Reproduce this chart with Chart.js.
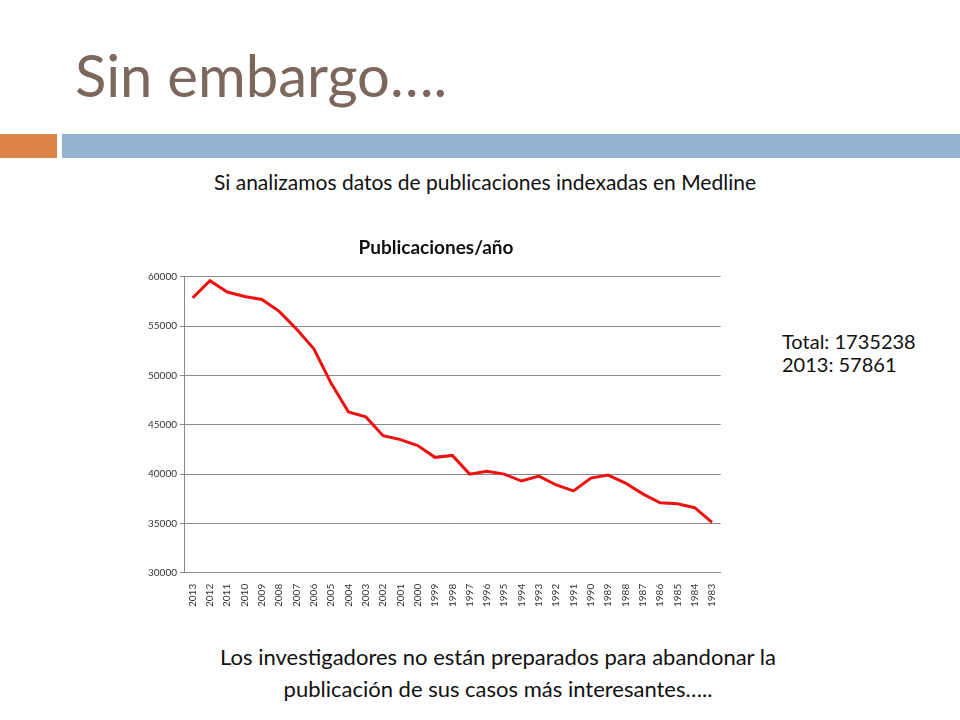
<!DOCTYPE html>
<html>
<head>
<meta charset="utf-8">
<script src="https://cdn.jsdelivr.net/npm/chart.js@4/dist/chart.umd.min.js"></script>
<style>
  body { margin:0; width:960px; height:720px; background:#fff; position:relative; overflow:hidden; font-family: Lato, "Open Sans", sans-serif; }
  .t { position:absolute; white-space:nowrap; }
  #wrap { position:absolute; left:145px; top:230px; width:582px; height:380px; }
</style>
</head>
<body>
<div class="t" style="left:75px; top:40px; font-size:58px; color:#7b675c;">Sin embargo….</div>
<div style="position:absolute; left:0; top:134px; width:57px; height:24px; background:#dd8447;"></div>
<div style="position:absolute; left:62px; top:134px; width:898px; height:24px; background:#94b3d1;"></div>
<div class="t" style="left:0; width:970px; text-align:center; top:169px; font-size:21px; color:#111;">Si analizamos datos de publicaciones indexadas en Medline</div>
<div class="t" style="left:782px; top:330px; font-size:20px; line-height:23px; color:#111;">Total: 1735238<br>2013: 57861</div>
<div class="t" style="left:0; width:996px; text-align:center; top:641px; font-size:22px; line-height:32px; color:#111;">Los investigadores no están preparados para abandonar la<br>publicación de sus casos más interesantes…..</div>
<div id="wrap"><canvas id="c"></canvas></div>
<script>
// años (de más reciente a más antiguo)
const years = ["2013","2012","2011","2010","2009","2008","2007","2006","2005","2004","2003","2002","2001","2000","1999","1998","1997","1996","1995","1994","1993","1992","1991","1990","1989","1988","1987","1986","1985","1984","1983"];
// publicaciones por año
const pubs = [57861,59600,58460,58000,57700,56500,54700,52700,49200,46300,45800,43900,43500,42900,41700,41900,40000,40300,40000,39300,39800,38900,38300,39600,39900,39100,38000,37100,37000,36600,35100];

new Chart(document.getElementById("c"), {
  type: "line",
  data: {
    labels: years,
    datasets: [{
      label: "Publicaciones/año",
      data: pubs,
      borderColor: "#ee1111",
      borderWidth: 3,
      pointRadius: 0,
      tension: 0
    }]
  },
  options: {
    responsive: true,
    maintainAspectRatio: false,
    animation: false,
    plugins: {
      legend: { display: false },
      title: {
        display: true,
        text: "Publicaciones/año",
        color: "#111",
        font: { family: "Lato", size: 19, weight: "bold" },
        padding: { top: 6, bottom: 18 }
      }
    },
    scales: {
      y: {
        min: 30000, max: 60000,
        ticks: { stepSize: 5000, color: "#333", font: { family: "Lato", size: 10 }, callback: (v) => String(v) },
        grid: { color: "#888", drawTicks: true, tickLength: 4 },
        border: { color: "#888" }
      },
      x: {
        offset: true,
        ticks: { minRotation: 90, maxRotation: 90, autoSkip: false, color: "#333", font: { family: "Lato", size: 10 } },
        grid: { display: false },
        border: { color: "#888" }
      }
    }
  }
});
</script>
</body>
</html>
